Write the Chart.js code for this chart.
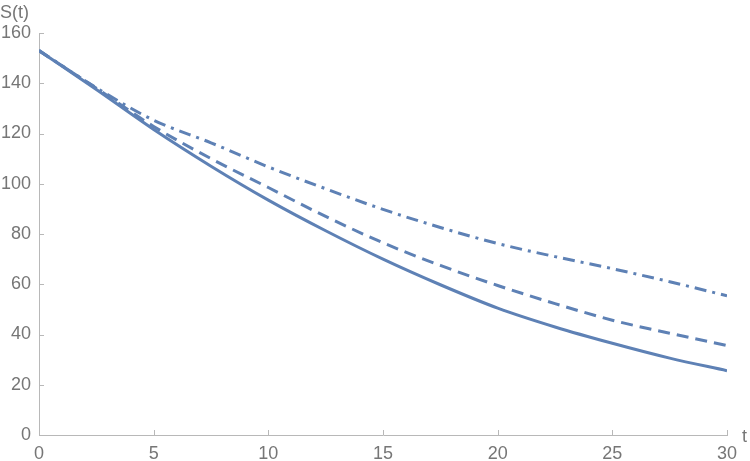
<!DOCTYPE html>
<html>
<head>
<meta charset="utf-8">
<script src="https://cdn.jsdelivr.net/npm/chart.js@4"></script>
<style>
  html, body { margin: 0; padding: 0; background: #fff; }
  #wrap { width: 750px; height: 461px; }
</style>
</head>
<body>
<div id="wrap"><canvas id="plot" width="750" height="461"></canvas></div>
<script>
// values
const tValues = [0, 2.5, 5, 7.5, 10, 12.5, 15, 17.5, 20, 22.5, 25, 27.5, 30];
const solidS  = [153, 137.5, 121.6, 107, 93.5, 81.3, 70, 59.8, 50.5, 43, 36.5, 30.6, 25.6];
const dashedS = [153, 138, 122.8, 110, 98.5, 87, 76.5, 67.5, 59.5, 52.3, 45.7, 40.5, 35.6];
const dotDashS = [153, 138.2, 125.3, 116.3, 106.7, 98, 89.8, 82.6, 76.2, 71, 66.2, 61, 55.4];
const xTicks = [0, 5, 10, 15, 20, 25, 30];
const yTicks = [0, 20, 40, 60, 80, 100, 120, 140, 160];

const blue = '#5e81b5';
const axisGray = '#b8b8b8';
const labelGray = '#767676';
const fontFam = '"Liberation Sans", Arial, sans-serif';

function pts(ys) {
  return tValues.map((t, i) => ({ x: t, y: ys[i] }));
}

function series(ys, dash) {
  return {
    data: pts(ys),
    borderColor: blue,
    borderWidth: 3,
    borderDash: dash,
    borderCapStyle: 'butt',
    pointRadius: 0,
    fill: false,
    cubicInterpolationMode: 'monotone'
  };
}

// tick marks point into the plot, and the axis names sit at the ends
const innerTicks = {
  id: 'innerTicks',
  afterDraw(chart) {
    const c = chart.ctx, xs = chart.scales.x, ys = chart.scales.y;
    const x0 = xs.getPixelForValue(0), y0 = ys.getPixelForValue(0);
    c.save();
    c.strokeStyle = axisGray;
    c.lineWidth = 1;
    c.beginPath();
    xTicks.forEach(v => {
      const px = Math.round(xs.getPixelForValue(v)) + 0.5;
      c.moveTo(px, y0); c.lineTo(px, y0 - 5);
    });
    yTicks.forEach(v => {
      const py = Math.round(ys.getPixelForValue(v)) + 0.5;
      c.moveTo(x0, py); c.lineTo(x0 + 5, py);
    });
    c.stroke();
    c.fillStyle = labelGray;
    c.font = '18px ' + fontFam;
    c.textBaseline = 'middle';
    c.textAlign = 'left';
    c.fillText('t', chart.chartArea.right + 15, y0 + 2);
    c.fillText('S(t)', 0, 13);
    c.restore();
  }
};

new Chart(document.getElementById('plot'), {
  type: 'line',
  data: {
    datasets: [
      series(solidS, []),
      series(dashedS, [12, 7]),
      series(dotDashS, [12, 6, 3, 6])
    ]
  },
  options: {
    responsive: false,
    animation: false,
    layout: { padding: { top: 33, right: 23, left: 0, bottom: 0 } },
    plugins: { legend: { display: false }, tooltip: { enabled: false } },
    scales: {
      x: {
        type: 'linear',
        min: 0,
        max: 30,
        afterFit: s => { s.height = 26; },
        afterBuildTicks: s => { s.ticks = xTicks.map(v => ({ value: v })); },
        grid: { drawOnChartArea: false, drawTicks: false },
        border: { color: axisGray, width: 1 },
        ticks: {
          color: labelGray,
          padding: 8,
          maxRotation: 0,
          font: { size: 18, family: fontFam }
        }
      },
      y: {
        min: 0,
        max: 160,
        afterFit: s => { s.width = 39; },
        afterBuildTicks: s => { s.ticks = yTicks.map(v => ({ value: v })); },
        grid: { drawOnChartArea: false, drawTicks: false },
        border: { color: axisGray, width: 1 },
        ticks: {
          color: labelGray,
          padding: 8,
          font: { size: 18, family: fontFam }
        }
      }
    }
  },
  plugins: [innerTicks]
});
</script>
</body>
</html>
